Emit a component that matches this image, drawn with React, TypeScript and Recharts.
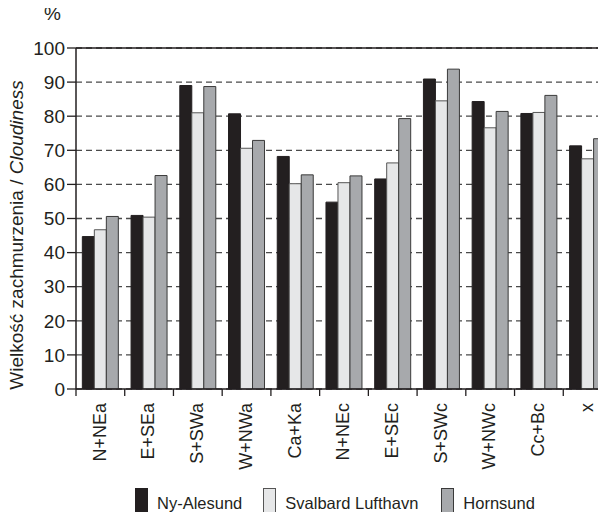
import { BarChart, Bar, XAxis, YAxis, CartesianGrid, ReferenceLine } from "recharts";

const categories = ["N+NEa", "E+SEa", "S+SWa", "W+NWa", "Ca+Ka", "N+NEc", "E+SEc", "S+SWc", "W+NWc", "Cc+Bc", "x"];
const nyAlesund = [44.7, 50.9, 89.0, 80.7, 68.2, 54.8, 61.6, 90.9, 84.3, 80.8, 71.3];
const svalbard = [46.7, 50.4, 81.0, 70.6, 60.2, 60.5, 66.3, 84.5, 76.6, 81.1, 67.5];
const hornsund = [50.6, 62.6, 88.7, 72.9, 62.8, 62.5, 79.3, 93.8, 81.4, 86.1, 73.4];
const yTicks = [0, 10, 20, 30, 40, 50, 60, 70, 80, 90, 100];

const series = [
  { key: "ny", name: "Ny-Alesund", fill: "#231f20", stroke: "#231f20" },
  { key: "sv", name: "Svalbard Lufthavn", fill: "#e6e7e8", stroke: "#555555" },
  { key: "ho", name: "Hornsund", fill: "#a7a9ac", stroke: "#3a3a3a" },
];

const data = categories.map((c, i) => ({
  cat: c,
  ny: nyAlesund[i],
  sv: svalbard[i],
  ho: hornsund[i],
}));

const W = 616;
const H = 520;
const X_H = 30;
const Y_W = 50;
const margin = { top: 48, right: 4, bottom: 131 - X_H, left: 76 - Y_W };
const BAND = (W - margin.left - Y_W - margin.right) / categories.length;
const FONT = "'Liberation Sans', Arial, sans-serif";

const XTick = (props: any) => {
  const { x, y, payload } = props;
  const bx = x - BAND / 2;
  return (
    <g>
      <line x1={bx} x2={bx} y1={y} y2={y + 7} stroke="#231f20" strokeWidth={1.3} />
      <text
        x={x - 1}
        y={y + 14}
        transform={`rotate(-90, ${x - 1}, ${y + 14})`}
        textAnchor="end"
        dy="0.35em"
        fontSize={18}
        fill="#231f20"
        fontFamily={FONT}
      >
        {payload.value}
      </text>
    </g>
  );
};

export default function App() {
  return (
    <div style={{ position: "relative", width: 606, height: 520, overflow: "hidden", margin: -8, fontFamily: FONT }}>
      <BarChart width={W} height={H} data={data} margin={margin} barCategoryGap="13%" barGap={0}>
        <CartesianGrid vertical={false} stroke="#4a4a4a" strokeDasharray="6 4" strokeWidth={1.3} />
        <ReferenceLine y={100} stroke="#231f20" strokeWidth={1.5} />
        <XAxis
          dataKey="cat"
          height={X_H}
          interval={0}
          tickLine={false}
          tickSize={0}
          tickMargin={0}
          tick={<XTick />}
          axisLine={{ stroke: "#231f20", strokeWidth: 1.5 }}
        />
        <YAxis
          width={Y_W}
          domain={[0, 100]}
          ticks={yTicks}
          interval={0}
          tickSize={9}
          tickMargin={2}
          tick={{ fontSize: 19, fill: "#231f20", fontFamily: FONT }}
          tickLine={{ stroke: "#231f20", strokeWidth: 1.3 }}
          axisLine={{ stroke: "#231f20", strokeWidth: 1.5 }}
        />
        {series.map((s) => (
          <Bar key={s.key} dataKey={s.key} name={s.name} fill={s.fill} stroke={s.stroke} strokeWidth={1} isAnimationActive={false} />
        ))}
      </BarChart>
      <div style={{ position: "absolute", left: 44, top: 3, fontSize: 19, color: "#231f20" }}>%</div>
      <div
        style={{
          position: "absolute",
          left: 17,
          top: 235,
          transform: "translate(-50%, -50%) rotate(-90deg)",
          whiteSpace: "nowrap",
          fontSize: 19,
          color: "#231f20",
        }}
      >
        Wielkość zachmurzenia / <i>Cloudiness</i>
      </div>
      <div style={{ position: "absolute", left: 135, top: 488, display: "flex", alignItems: "center", fontSize: 16.5, color: "#231f20" }}>
        {series.map((s, i) => (
          <div key={s.key} style={{ display: "flex", alignItems: "center", marginRight: i === 0 ? 21 : 23 }}>
            <span style={{ width: 11, height: 29, background: s.fill, border: `1px solid ${s.stroke}`, marginRight: 9 }} />
            <span>{s.name}</span>
          </div>
        ))}
      </div>
    </div>
  );
}
